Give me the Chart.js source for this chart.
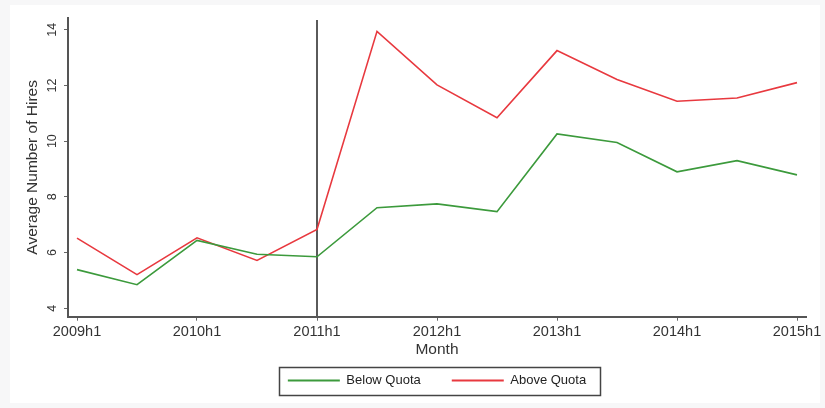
<!DOCTYPE html>
<html><head><meta charset="utf-8">
<script src="https://cdn.jsdelivr.net/npm/chart.js@4"></script>
<style>html,body{margin:0;padding:0;background:#fff;overflow:hidden}</style>
</head><body>
<canvas id="c" width="825" height="408" style="display:block;width:825px;height:408px"></canvas>
<script>
const periods = ['2009h1','2009h2','2010h1','2010h2','2011h1','2011h2','2012h1','2012h2','2013h1','2013h2','2014h1','2014h2','2015h1'];
const belowQuota = [5.39, 4.85, 6.44, 5.94, 5.85, 7.61, 7.75, 7.47, 10.26, 9.95, 8.90, 9.30, 8.79];
const aboveQuota = [6.52, 5.21, 6.53, 5.72, 6.83, 13.94, 12.02, 10.84, 13.25, 12.21, 11.43, 11.55, 12.10];
const xTickLabels = ['2009h1','2010h1','2011h1','2012h1','2013h1','2014h1','2015h1'];
const yTickValues = [4, 6, 8, 10, 12, 14];
const policyPeriod = '2011h1';
const seriesNames = ['Below Quota', 'Above Quota'];
const seriesColors = ['#3c9a3c', '#e8393f'];

const FONT = "'Liberation Sans', Arial, Helvetica, sans-serif";
const LEGEND_PAD = 31;

const bgPlugin = {
  id: 'bg',
  beforeDraw(chart) {
    const ctx = chart.ctx;
    ctx.save();
    ctx.fillStyle = '#f7f7f8';
    ctx.fillRect(0, 0, chart.width, chart.height);
    ctx.fillStyle = '#ffffff';
    ctx.fillRect(10, 5, 810, 398);
    ctx.restore();
  }
};

// centre the legend under the plot area, as in the original
const legendAlignPlugin = {
  id: 'legendAlign',
  afterLayout(chart) {
    const lg = chart.legend, area = chart.chartArea;
    if (!lg) return;
    lg.left = area.left;
    lg.right = area.right;
  }
};

const refLinePlugin = {
  id: 'refLine',
  beforeDatasetsDraw(chart) {
    const xs = chart.scales.x, area = chart.chartArea, ctx = chart.ctx;
    const px = xs.getPixelForValue(periods.indexOf(policyPeriod));
    ctx.save();
    ctx.strokeStyle = '#5a5a5a';
    ctx.lineWidth = 2;
    ctx.beginPath();
    ctx.moveTo(px, area.top + 2);
    ctx.lineTo(px, area.bottom);
    ctx.stroke();
    ctx.restore();
  }
};

const legendBoxPlugin = {
  id: 'legendBox',
  afterDraw(chart) {
    const lg = chart.legend;
    if (!lg || !lg.lineWidths) return;
    const lw = lg.lineWidths[0];
    const start = (lg.left + LEGEND_PAD + lg.right - lw) / 2;
    const end = start + lw - LEGEND_PAD;
    const fs = lg.options.labels.font.size;
    const cy = lg.top + LEGEND_PAD + fs / 2;
    const ctx = chart.ctx;
    ctx.save();
    ctx.strokeStyle = '#444';
    ctx.lineWidth = 1.5;
    ctx.strokeRect(Math.round(start - 9) + 0.5, Math.round(cy - 14) + 0.5, Math.round(end - start + 23), 28);
    ctx.restore();
  }
};

new Chart(document.getElementById('c'), {
  type: 'line',
  data: {
    datasets: [
      { label: seriesNames[0], data: belowQuota.map((v, i) => ({x: i, y: v})), borderColor: seriesColors[0], backgroundColor: seriesColors[0], borderWidth: 1.6, pointRadius: 0, tension: 0, fill: false },
      { label: seriesNames[1], data: aboveQuota.map((v, i) => ({x: i, y: v})), borderColor: seriesColors[1], backgroundColor: seriesColors[1], borderWidth: 1.6, pointRadius: 0, tension: 0, fill: false }
    ]
  },
  options: {
    responsive: false,
    animation: false,
    devicePixelRatio: 1,
    layout: { padding: { left: 0, right: 19, top: 18, bottom: 15 } },
    plugins: {
      tooltip: { enabled: false },
      legend: {
        position: 'bottom',
        maxHeight: 50,
        labels: {
          boxWidth: 52,
          boxHeight: 2,
          padding: LEGEND_PAD,
          color: '#222',
          font: { family: FONT, size: 13 },
          generateLabels(chart) {
            return Chart.defaults.plugins.legend.labels.generateLabels(chart).map(l => Object.assign(l, { lineWidth: 0, fillStyle: l.strokeStyle }));
          }
        }
      }
    },
    scales: {
      x: {
        type: 'linear',
        min: -0.15,
        max: 12.15,
        afterBuildTicks(scale) { scale.ticks = xTickLabels.map(t => ({ value: periods.indexOf(t) })); },
        afterFit(scale) { scale.height = 26.3; scale.paddingLeft = 0; scale.paddingRight = 0; },
        ticks: {
          autoSkip: false,
          maxRotation: 0,
          minRotation: 0,
          padding: 3,
          color: '#333',
          font: { family: FONT, size: 14.5 },
          callback: (v) => periods[v]
        },
        grid: { display: true, drawOnChartArea: false, drawTicks: true, tickLength: 4, color: '#666', lineWidth: 1 },
        border: { display: true, color: '#555', width: 2 },
        title: { display: true, text: 'Month', color: '#333', font: { family: FONT, size: 15.5 }, padding: { top: 0, bottom: -16 } }
      },
      y: {
        type: 'linear',
        min: 3.7,
        max: 14.42,
        afterBuildTicks(scale) { scale.ticks = yTickValues.map(v => ({ value: v })); },
        afterFit(scale) { scale.width = 68; scale.paddingTop = 0; scale.paddingBottom = 0; },
        ticks: {
          minRotation: 90,
          maxRotation: 90,
          crossAlign: 'center',
          padding: 5,
          color: '#333',
          font: { family: FONT, size: 12.5 }
        },
        grid: { display: true, drawOnChartArea: false, drawTicks: true, tickLength: 4, color: '#666', lineWidth: 1 },
        border: { display: true, color: '#555', width: 2 },
        title: { display: true, text: 'Average Number of Hires', color: '#333', font: { family: FONT, size: 15.5 }, padding: { top: 23.7, bottom: 0 } }
      }
    }
  },
  plugins: [bgPlugin, legendAlignPlugin, refLinePlugin, legendBoxPlugin]
});
</script>
</body></html>
